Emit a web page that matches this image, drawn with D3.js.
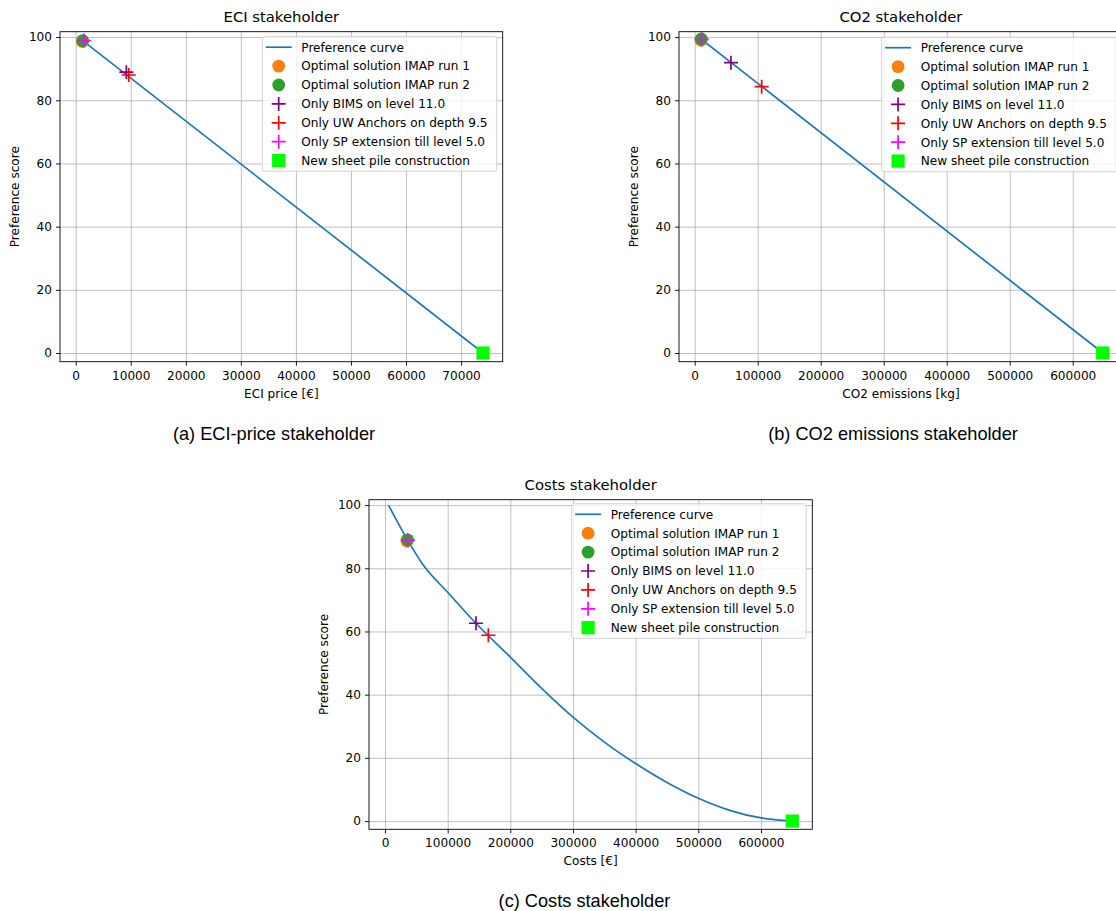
<!DOCTYPE html>
<html>
<head>
<meta charset="utf-8">
<script src="https://cdn.jsdelivr.net/npm/d3@7"></script>
<style>
  html, body { margin: 0; padding: 0; background: #fff; overflow: hidden; }
  svg text { font-family: "DejaVu Sans", sans-serif; fill: #000; }
</style>
</head>
<body>
<svg id="chart" width="1130" height="911"></svg>
<script>
// ---------------- data ----------------
const seriesNames = [
  "Preference curve",
  "Optimal solution IMAP run 1",
  "Optimal solution IMAP run 2",
  "Only BIMS on level 11.0",
  "Only UW Anchors on depth 9.5",
  "Only SP extension till level 5.0",
  "New sheet pile construction"
];
const yTicks = [0, 20, 40, 60, 80, 100];

// ECI stakeholder
const eciTicks = [0, 10000, 20000, 30000, 40000, 50000, 60000, 70000];
const eciCurveX = [1270, 74000];
const eciCurveY = [98.9, 0];
// run1, run2, BIMS, UW anchors, SP extension, new sheet pile
const eciPointsX = [1200, 1270, 9200, 9640, 1500, 74000];
const eciPointsY = [98.6, 98.9, 88.9, 88.0, 98.9, 0];

// CO2 stakeholder
const co2Ticks = [0, 100000, 200000, 300000, 400000, 500000, 600000];
const co2CurveX = [10500, 648000];
const co2CurveY = [99.3, 0];
const co2PointsX = [10000, 10500, 57600, 106300, 11000, 647600];
const co2PointsY = [99.0, 99.4, 91.9, 84.3, 99.3, 0];

// Costs stakeholder
const costTicks = [0, 100000, 200000, 300000, 400000, 500000, 600000];
const costCurveX = [5500, 35000, 61000, 100000, 145000, 200000, 250000, 300000, 350000, 400000, 450000, 500000, 550000, 600000, 650000];
const costCurveY = [100, 89.3, 81.0, 72.4, 62.6, 51.9, 42.0, 32.9, 25.0, 18.2, 12.2, 7.2, 3.4, 1.0, 0];
const costPointsX = [35000, 36000, 145200, 164900, 36500, 650000];
const costPointsY = [88.6, 89.0, 62.6, 58.8, 88.9, 0];

// -------------- styling / layout --------------
const colors = ["#1f77b4", "#ff7f0e", "#2ca02c", "#800080", "#ff0000", "#ff00ff", "#00ff00"];
const shapes = ["line", "circle", "circle", "plus", "plus", "plus", "square"];
const FS = 12.1;

const panels = [
  { title: "ECI stakeholder", xLabel: "ECI price [€]", caption: "(a) ECI-price stakeholder",
    left: 60, right: 502.7, top: 31.7, bottom: 361.7,
    xDomain: [-2850, 77560], yDomain: [-2.75, 101.7],
    xTicks: eciTicks, cx: eciCurveX, cy: eciCurveY, px: eciPointsX, py: eciPointsY,
    legLeft: 262.3, legTop: 36.7, capX: 274, capY: 439.5, curve: d3.curveLinear },
  { title: "CO2 stakeholder", xLabel: "CO2 emissions [kg]", caption: "(b) CO2 emissions stakeholder",
    left: 679, right: 1123, top: 31.7, bottom: 361.7,
    xDomain: [-24900, 679800], yDomain: [-2.75, 101.7],
    xTicks: co2Ticks, cx: co2CurveX, cy: co2CurveY, px: co2PointsX, py: co2PointsY,
    legLeft: 881.7, legTop: 37.2, capX: 893, capY: 439.5, curve: d3.curveLinear },
  { title: "Costs stakeholder", xLabel: "Costs [€]", caption: "(c) Costs stakeholder",
    left: 369, right: 812.3, top: 499.7, bottom: 829.3,
    xDomain: [-25530, 681900], yDomain: [-2.6, 101.7],
    xTicks: costTicks, cx: costCurveX, cy: costCurveY, px: costPointsX, py: costPointsY,
    legLeft: 571.7, legTop: 503.8, capX: 584.5, capY: 906.5, curve: d3.curveMonotoneX }
];

const svg = d3.select("#chart");

function drawMarker(g, shape, color, x, y) {
  if (shape === "circle") {
    g.append("circle").attr("cx", x).attr("cy", y).attr("r", 6.4).attr("fill", color);
  } else if (shape === "plus") {
    const h = 7;
    g.append("path").attr("d", `M${x - h},${y}H${x + h}M${x},${y - h}V${y + h}`)
      .attr("stroke", color).attr("stroke-width", 1.7).attr("fill", "none");
  } else if (shape === "square") {
    const h = 6.6;
    g.append("rect").attr("x", x - h).attr("y", y - h).attr("width", 2 * h).attr("height", 2 * h).attr("fill", color);
  }
}

panels.forEach(p => {
  const g = svg.append("g");
  const x = d3.scaleLinear().domain(p.xDomain).range([p.left, p.right]);
  const y = d3.scaleLinear().domain(p.yDomain).range([p.bottom, p.top]);

  // grid
  g.append("g").attr("transform", `translate(0,${p.bottom})`)
    .call(d3.axisBottom(x).tickValues(p.xTicks).tickSize(-(p.bottom - p.top)).tickFormat(""))
    .call(a => a.select(".domain").remove())
    .call(a => a.selectAll("line").attr("stroke", "#b0b0b0").attr("stroke-width", 0.8));
  g.append("g").attr("transform", `translate(${p.left},0)`)
    .call(d3.axisLeft(y).tickValues(yTicks).tickSize(-(p.right - p.left)).tickFormat(""))
    .call(a => a.select(".domain").remove())
    .call(a => a.selectAll("line").attr("stroke", "#b0b0b0").attr("stroke-width", 0.8));

  // curve
  const line = d3.line().x(d => x(d[0])).y(d => y(d[1])).curve(p.curve);
  g.append("path").datum(p.cx.map((v, i) => [v, p.cy[i]]))
    .attr("d", line).attr("fill", "none").attr("stroke", colors[0]).attr("stroke-width", 1.7);

  // points
  p.px.forEach((v, i) => drawMarker(g, shapes[i + 1], colors[i + 1], x(v), y(p.py[i])));

  // axes
  const xa = g.append("g").attr("transform", `translate(0,${p.bottom})`)
    .call(d3.axisBottom(x).tickValues(p.xTicks).tickSize(4).tickPadding(5.5).tickFormat(d3.format("d")));
  const ya = g.append("g").attr("transform", `translate(${p.left},0)`)
    .call(d3.axisLeft(y).tickValues(yTicks).tickSize(4).tickPadding(4).tickFormat(d3.format("d")));
  [xa, ya].forEach(a => {
    a.select(".domain").remove();
    a.selectAll("line").attr("stroke", "#000").attr("stroke-width", 0.9);
    a.selectAll("text").attr("font-size", FS).attr("font-family", "DejaVu Sans").attr("fill", "#000");
  });

  // frame
  g.append("rect").attr("x", p.left).attr("y", p.top)
    .attr("width", p.right - p.left).attr("height", p.bottom - p.top)
    .attr("fill", "none").attr("stroke", "#000").attr("stroke-width", 0.9);

  // title and labels
  const cxm = (p.left + p.right) / 2;
  g.append("text").attr("x", cxm).attr("y", p.top - 10).attr("text-anchor", "middle")
    .attr("font-size", 14.8).text(p.title);
  g.append("text").attr("x", cxm).attr("y", p.bottom + 36).attr("text-anchor", "middle")
    .attr("font-size", FS).text(p.xLabel);
  g.append("text").attr("transform", `translate(${p.left - 41.5},${(p.top + p.bottom) / 2}) rotate(-90)`)
    .attr("text-anchor", "middle").attr("font-size", FS).text("Preference score");

  // legend
  const lg = g.append("g").attr("transform", `translate(${p.legLeft},${p.legTop})`);
  lg.append("rect").attr("x", 0).attr("y", 0).attr("width", 234.5).attr("height", 134.5)
    .attr("rx", 2).attr("fill", "#fff").attr("fill-opacity", 0.8)
    .attr("stroke", "#cccccc").attr("stroke-width", 0.9);
  seriesNames.forEach((name, i) => {
    const ry = 10.5 + i * 18.9;
    if (shapes[i] === "line") {
      lg.append("line").attr("x1", 3.4).attr("x2", 29.4).attr("y1", ry).attr("y2", ry)
        .attr("stroke", colors[i]).attr("stroke-width", 1.7);
    } else {
      drawMarker(lg, shapes[i], colors[i], 16.4, ry);
    }
    lg.append("text").attr("x", 39).attr("y", ry).attr("dy", "0.36em")
      .attr("font-size", FS).text(name);
  });

  // caption
  svg.append("text").attr("x", p.capX).attr("y", p.capY)
    .attr("text-anchor", "middle").attr("font-size", 18.2)
    .style("font-family", "'Liberation Sans', Arial, sans-serif").text(p.caption);
});
</script>
</body>
</html>
